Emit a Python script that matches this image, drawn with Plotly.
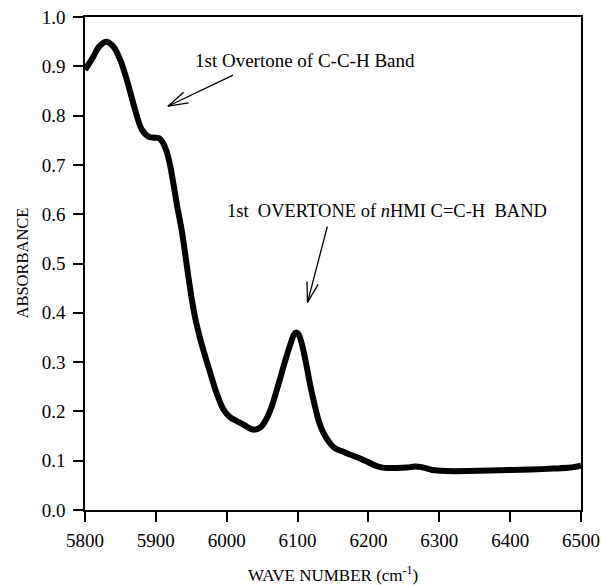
import math
import plotly.graph_objects as go

# NIR absorbance spectrum
wavenumber = [5800, 5810, 5820, 5830, 5840, 5850, 5860, 5870, 5880, 5890,
              5900, 5905, 5910, 5915, 5920, 5925, 5930, 5937, 5945, 5950,
              5955, 5963, 5970, 5977, 5985, 5995, 6005, 6015, 6025, 6033,
              6040, 6048, 6055, 6063, 6070, 6076, 6083, 6090, 6095, 6098,
              6102, 6108, 6113, 6118, 6123, 6130, 6137, 6145, 6152, 6161,
              6175, 6189, 6200, 6210, 6220, 6240, 6255, 6265, 6275, 6290,
              6310, 6340, 6370, 6400, 6430, 6460, 6485, 6500]
absorbance = [0.893, 0.915, 0.940, 0.950, 0.940, 0.912, 0.868, 0.815, 0.772, 0.757,
              0.755, 0.754, 0.745, 0.728, 0.700, 0.660, 0.617, 0.563, 0.482, 0.434,
              0.393, 0.345, 0.310, 0.277, 0.240, 0.205, 0.188, 0.180, 0.172, 0.165,
              0.163, 0.168, 0.182, 0.208, 0.240, 0.270, 0.305, 0.337, 0.356, 0.360,
              0.355, 0.325, 0.290, 0.252, 0.220, 0.180, 0.155, 0.137, 0.126, 0.120,
              0.112, 0.104, 0.097, 0.090, 0.086, 0.085, 0.086, 0.088, 0.087, 0.081,
              0.079, 0.079, 0.080, 0.081, 0.082, 0.084, 0.086, 0.090]

x_ticks = [5800, 5900, 6000, 6100, 6200, 6300, 6400, 6500]
y_ticks = [0.0, 0.1, 0.2, 0.3, 0.4, 0.5, 0.6, 0.7, 0.8, 0.9, 1.0]

# band labels: text, text anchor (x, y), arrow tail (x, y), arrow head (x, y)
band_labels = ["1st Overtone of C-C-H Band",
               "1st\u00a0\u00a0OVERTONE of <i>n</i>HMI C=C-H\u00a0\u00a0BAND"]
label_size = [19, 18.5]
label_pos = [(5952, 0.911), (5998, 0.607)]
arrow_tail = [(6009, 0.882), (6142, 0.575)]
arrow_head = [(5917, 0.819), (6114, 0.421)]

W, H = 601, 585
M = dict(l=85, r=20, t=17, b=75)
X_RANGE = [5800, 6500]
Y_RANGE = [0.0, 1.0]
FONT = "Liberation Serif, Times New Roman, serif"

plot_w = W - M["l"] - M["r"]
plot_h = H - M["t"] - M["b"]
# pixels per data unit, used to build open V arrowheads
px_x = plot_w / (X_RANGE[1] - X_RANGE[0])
px_y = plot_h / (Y_RANGE[1] - Y_RANGE[0])

fig = go.Figure()
fig.add_trace(go.Scatter(x=wavenumber, y=absorbance, mode="lines",
                         line=dict(color="black", width=6, shape="spline", smoothing=0.8),
                         hoverinfo="skip", showlegend=False))

shapes = []
wing_len, wing_ang = 21, math.radians(16)
for (tx, ty), (hx, hy) in zip(arrow_tail, arrow_head):
    shapes.append(dict(type="line", x0=tx, y0=ty, x1=hx, y1=hy,
                       line=dict(color="black", width=1.3)))
    # direction from head back toward tail in pixel space (y up)
    dx, dy = (tx - hx) * px_x, (ty - hy) * px_y
    base = math.atan2(dy, dx)
    for s in (-1, 1):
        a = base + s * wing_ang
        ex = hx + wing_len * math.cos(a) / px_x
        ey = hy + wing_len * math.sin(a) / px_y
        shapes.append(dict(type="line", x0=hx, y0=hy, x1=ex, y1=ey,
                           line=dict(color="black", width=1.3)))

annotations = [dict(x=x, y=y, text=t, showarrow=False, xanchor="left", yanchor="middle",
                    font=dict(family=FONT, size=s, color="black"))
               for t, s, (x, y) in zip(band_labels, label_size, label_pos)]

# axis titles
annotations.append(dict(text="WAVE NUMBER (cm<sup>-1</sup>)", showarrow=False,
                        xref="paper", yref="paper", x=0.5, y=-64 / plot_h,
                        xanchor="center", yanchor="middle",
                        font=dict(family=FONT, size=17, color="black")))
annotations.append(dict(text="ABSORBANCE", showarrow=False, textangle=-90,
                        xref="paper", yref="paper", x=-63 / plot_w, y=0.5,
                        xanchor="center", yanchor="middle",
                        font=dict(family=FONT, size=16.5, color="black")))

axis_common = dict(showgrid=False, zeroline=False, showline=True, mirror=True,
                   linecolor="black", linewidth=1.5, ticks="outside", ticklen=10,
                   tickwidth=1.5, tickcolor="black", automargin=False,
                   tickfont=dict(family=FONT, size=19, color="black"))

fig.update_layout(
    width=W, height=H, margin=M,
    paper_bgcolor="white", plot_bgcolor="white",
    shapes=shapes, annotations=annotations,
    xaxis=dict(range=X_RANGE, tickvals=x_ticks, ticktext=[str(v) for v in x_ticks],
               ticklabelstandoff=2, **axis_common),
    yaxis=dict(range=Y_RANGE, tickvals=y_ticks, ticktext=[f"{v:.1f}" for v in y_ticks],
               ticklabelstandoff=4, **axis_common),
)

fig.write_html("out.html")
